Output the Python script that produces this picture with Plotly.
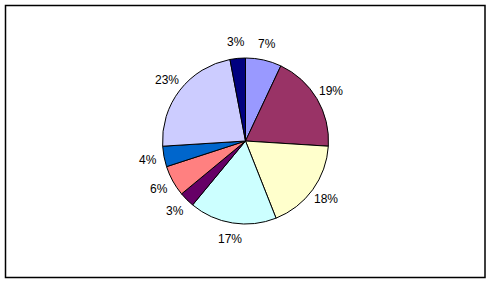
import math
import plotly.graph_objects as go

labels = ["A", "B", "C", "D", "E", "F", "G", "H", "I"]
values = [7, 19, 18, 17, 3, 6, 4, 23, 3]
colors = ["#9999FF", "#993366", "#FFFFCC", "#CCFFFF", "#660066", "#FF8080", "#0066CC", "#CCCCFF", "#000080"]
texts = [f"{v}%" for v in values]

W, H = 492, 284
cx, cy, r = 245.5, 141, 83
label_dist = 99

fig = go.Figure(go.Pie(
    labels=labels, values=values, textinfo="none",
    sort=False, direction="clockwise", rotation=0,
    marker=dict(colors=colors, line=dict(color="black", width=1)),
    showlegend=False, hoverinfo="none",
    domain=dict(x=[(cx - r) / W, (cx + r) / W], y=[(H - cy - r) / H, (H - cy + r) / H]),
))

# data labels placed at each slice's mid-angle, outside the pie
total = sum(values)
annotations = []
cum = 0
for v, t in zip(values, texts):
    mid = (cum + v / 2) / total * 2 * math.pi
    cum += v
    px = cx + label_dist * math.sin(mid)
    py = cy - label_dist * math.cos(mid)
    annotations.append(dict(
        x=px / W, y=(H - py) / H, xref="paper", yref="paper",
        text=t, showarrow=False, xanchor="center", yanchor="middle",
        font=dict(family="Liberation Sans, Arial", size=12, color="black"),
    ))

fig.update_layout(
    width=W, height=H, margin=dict(l=0, r=0, t=0, b=0),
    paper_bgcolor="white", plot_bgcolor="white",
    annotations=annotations,
    shapes=[dict(type="rect", xref="paper", yref="paper",
                 x0=5.5 / W, x1=485 / W, y0=(H - 277.5) / H, y1=(H - 5.5) / H,
                 line=dict(color="black", width=1.5), fillcolor="rgba(0,0,0,0)")],
)
fig.write_html("out.html")
